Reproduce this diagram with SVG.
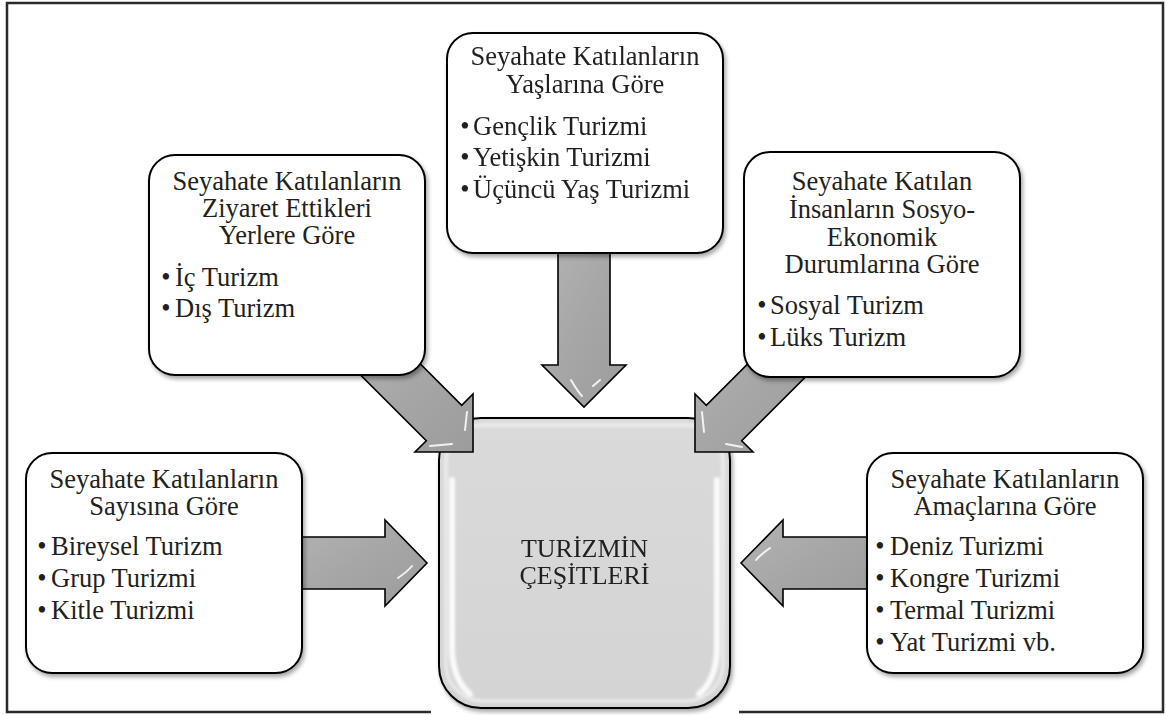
<svg xmlns="http://www.w3.org/2000/svg" width="1166" height="715" viewBox="0 0 1166 715" font-family="'Liberation Serif', 'DejaVu Serif', serif">
  <defs>
    <filter id="shadow" x="-10%" y="-10%" width="125%" height="130%">
      <feDropShadow dx="2" dy="3" stdDeviation="2" flood-color="#000" flood-opacity="0.35"/>
    </filter>
    <filter id="soft" x="-10%" y="-10%" width="120%" height="120%">
      <feGaussianBlur stdDeviation="1.6"/>
    </filter>
    <linearGradient id="arrowFill" x1="0" y1="0" x2="1" y2="1">
      <stop offset="0" stop-color="#b4b4b4"/>
      <stop offset="0.5" stop-color="#a6a6a6"/>
      <stop offset="1" stop-color="#9c9c9c"/>
    </linearGradient>
    <linearGradient id="hubFill" x1="0" y1="0" x2="0" y2="1">
      <stop offset="0" stop-color="#dadada"/>
      <stop offset="1" stop-color="#d4d4d4"/>
    </linearGradient>
  </defs>
  <style>
    .frame { fill: none; stroke: #2b2b2b; stroke-width: 2.5; }
    .box { fill: #ffffff; stroke: #000000; stroke-width: 2; }
    .hub { fill: url(#hubFill); stroke: #000000; stroke-width: 2; }
    .arrow { fill: url(#arrowFill); stroke: #000000; stroke-width: 1.6; stroke-linejoin: miter; }
    .glint { fill: none; stroke: #ffffff; stroke-width: 2; stroke-linecap: round; opacity: 0.85; }
    .sheen { fill: none; stroke: #ffffff; stroke-width: 6; stroke-linecap: round; opacity: 0.9; }
    text { font-family: "Liberation Serif", "DejaVu Serif", serif; font-size: 26.5px; fill: #231f20; }
    .c { text-anchor: middle; }
    .b { text-anchor: middle; }
  </style>

  <!-- outer frame, open at the bottom where the central box sits -->
  <path class="frame" d="M431,712 H7 V3 H1163 V712 H739"/>

  <!-- central node -->
  <g id="node-center">
    <rect class="hub" x="439" y="418" width="291" height="290" rx="42" filter="url(#shadow)"/>
    <rect x="446" y="425" width="277" height="276" rx="37" fill="none" stroke="#ffffff" stroke-width="3" opacity="0.6" filter="url(#soft)"/>
    <g filter="url(#soft)">
      <path class="sheen" d="M452,480 V650 Q453,680 470,694"/>
      <path class="sheen" d="M717,480 V650 Q716,680 699,694"/>
    </g>
    <text class="c" x="584.5" y="557" style="font-size:26px">TURİZMİN</text>
    <text class="c" x="584.5" y="584" style="font-size:26px">ÇEŞİTLERİ</text>
  </g>

  <!-- connectors: block arrows pointing to the central node -->
  <g id="connectors">
    <!-- from the top -->
    <path class="arrow" d="M558,240 H610 V365 H626 L584,407 L542,365 H558 Z"/>
    <path class="glint" d="M571,380 Q578,392 582,396 M600,380 L593,386"/>
    <!-- from the left -->
    <path class="arrow" d="M290,537 H385 V520 L427,563 L385,606 V589 H290 Z"/>
    <path class="glint" d="M398,578 Q408,571 412,566"/>
    <!-- from the right -->
    <path class="arrow" d="M878,537 H783 V520 L741,563 L783,606 V589 H878 Z"/>
    <path class="glint" d="M770,548 Q760,555 756,560"/>
    <!-- from the upper left -->
    <path class="arrow" d="M383.7,327.3 L461.7,405.3 L473,394 L473,452 L415,452 L426.3,440.7 L348.3,362.7 Z"/>
    <path class="glint" d="M430,446 L452,444 M465,430 L467,412"/>
    <!-- from the upper right -->
    <path class="arrow" d="M784.3,327.3 L706.3,405.3 L695,394 L695,452 L753,452 L741.7,440.7 L819.7,362.7 Z"/>
    <path class="glint" d="M702,412 L704,432 M726,444 L742,447"/>
  </g>

  <!-- left node -->
  <g id="node-count">
    <rect class="box" x="26" y="453" width="276" height="220" rx="26" filter="url(#shadow)"/>
    <text class="c" x="164" y="488">Seyahate Katılanların</text>
    <text class="c" x="164" y="515">Sayısına Göre</text>
    <text class="b" x="42" y="555">•</text><text x="51" y="555">Bireysel Turizm</text>
    <text class="b" x="42" y="587">•</text><text x="51" y="587">Grup Turizmi</text>
    <text class="b" x="42" y="619">•</text><text x="51" y="619">Kitle Turizmi</text>
  </g>

  <!-- upper left node -->
  <g id="node-places">
    <rect class="box" x="149" y="155" width="276" height="220" rx="26" filter="url(#shadow)"/>
    <text class="c" x="287" y="190">Seyahate Katılanların</text>
    <text class="c" x="287" y="217">Ziyaret Ettikleri</text>
    <text class="c" x="287" y="244">Yerlere Göre</text>
    <text class="b" x="166" y="286">•</text><text x="175" y="286">İç Turizm</text>
    <text class="b" x="166" y="317">•</text><text x="175" y="317">Dış Turizm</text>
  </g>

  <!-- top node -->
  <g id="node-age">
    <rect class="box" x="447" y="33" width="276" height="220" rx="26" filter="url(#shadow)"/>
    <text class="c" x="585" y="65">Seyahate Katılanların</text>
    <text class="c" x="585" y="93">Yaşlarına Göre</text>
    <text class="b" x="465" y="135">•</text><text x="473" y="135">Gençlik Turizmi</text>
    <text class="b" x="465" y="166">•</text><text x="473" y="166">Yetişkin Turizmi</text>
    <text class="b" x="465" y="198">•</text><text x="473" y="198">Üçüncü Yaş Turizmi</text>
  </g>

  <!-- upper right node -->
  <g id="node-socio">
    <rect class="box" x="744" y="152" width="276" height="225" rx="26" filter="url(#shadow)"/>
    <text class="c" x="882" y="190">Seyahate Katılan</text>
    <text class="c" x="882" y="218">İnsanların Sosyo-</text>
    <text class="c" x="882" y="246">Ekonomik</text>
    <text class="c" x="882" y="273">Durumlarına Göre</text>
    <text class="b" x="762" y="314">•</text><text x="770" y="314">Sosyal Turizm</text>
    <text class="b" x="762" y="346">•</text><text x="770" y="346">Lüks Turizm</text>
  </g>

  <!-- right node -->
  <g id="node-purpose">
    <rect class="box" x="867" y="453" width="276" height="220" rx="26" filter="url(#shadow)"/>
    <text class="c" x="1005" y="488">Seyahate Katılanların</text>
    <text class="c" x="1005" y="515">Amaçlarına Göre</text>
    <text class="b" x="880" y="555">•</text><text x="890" y="555">Deniz Turizmi</text>
    <text class="b" x="880" y="587">•</text><text x="890" y="587">Kongre Turizmi</text>
    <text class="b" x="880" y="619">•</text><text x="890" y="619">Termal Turizmi</text>
    <text class="b" x="880" y="651">•</text><text x="890" y="651">Yat Turizmi vb.</text>
  </g>
</svg>
